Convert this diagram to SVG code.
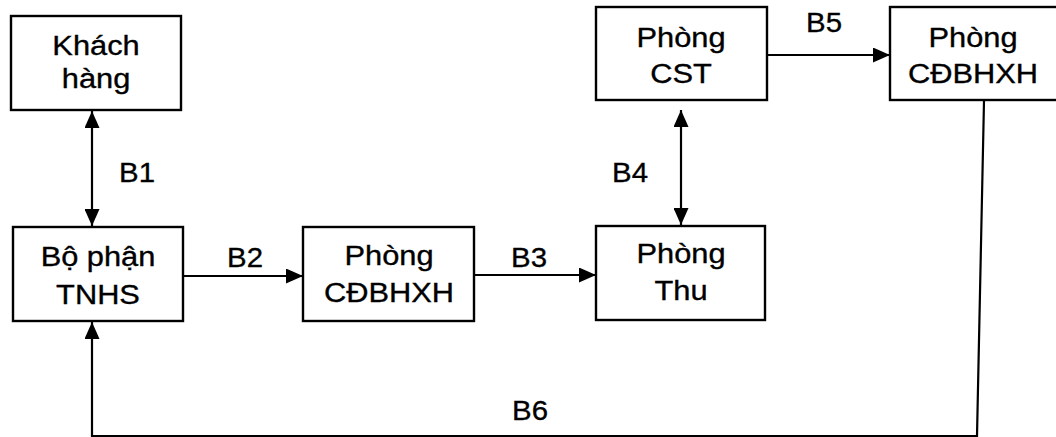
<svg xmlns="http://www.w3.org/2000/svg" width="1056" height="437" viewBox="0 0 1056 437">
<style>
.box{fill:#fff;stroke:#000;stroke-width:2.4}
.t{font-family:"Liberation Sans",Arial,sans-serif;font-size:28px;fill:#000;stroke:#000;stroke-width:0.35;text-anchor:middle}
.ln{stroke:#000;stroke-width:2.2;fill:none}
</style>
<defs>
<marker id="ah" viewBox="0 0 17 15" refX="17" refY="7.5" markerWidth="17" markerHeight="15" markerUnits="userSpaceOnUse" orient="auto-start-reverse">
<path d="M0,0 L17,7.5 L0,15 Z" fill="#000"/>
</marker>
</defs>
<rect width="1056" height="437" fill="#fff"/>
<g id="connectors">
<line class="ln" x1="92" y1="111" x2="92" y2="226" marker-start="url(#ah)" marker-end="url(#ah)"/>
<line class="ln" x1="183" y1="276" x2="303" y2="276" marker-end="url(#ah)"/>
<line class="ln" x1="474" y1="275" x2="596" y2="275" marker-end="url(#ah)"/>
<line class="ln" x1="681" y1="110" x2="681" y2="225" marker-start="url(#ah)" marker-end="url(#ah)"/>
<line class="ln" x1="767" y1="55" x2="890" y2="55" marker-end="url(#ah)"/>
<polyline class="ln" points="984,101 977,436 92,436 92,322" marker-end="url(#ah)"/>
<text class="t" transform="translate(137 182) scale(1.05 1)">B1</text>
<text class="t" transform="translate(245 267) scale(1.05 1)">B2</text>
<text class="t" transform="translate(529 267) scale(1.05 1)">B3</text>
<text class="t" transform="translate(630 182) scale(1.05 1)">B4</text>
<text class="t" transform="translate(824 32) scale(1.05 1)">B5</text>
<text class="t" transform="translate(530 420) scale(1.05 1)">B6</text>
</g>
<g id="khach-hang">
<rect class="box" x="11" y="16" width="170" height="94"/>
<text class="t" transform="translate(96 55) scale(1.1 1)">Khách</text>
<text class="t" transform="translate(96 88) scale(1.1 1)">hàng</text>
</g>
<g id="bo-phan-tnhs">
<rect class="box" x="13" y="227" width="170" height="94"/>
<text class="t" transform="translate(98 266) scale(1.1 1)">Bộ phận</text>
<text class="t" transform="translate(98 304) scale(1.1 1)">TNHS</text>
</g>
<g id="phong-cdbhxh-1">
<rect class="box" x="303" y="227" width="171" height="94"/>
<text class="t" transform="translate(389 265) scale(1.1 1)">Phòng</text>
<text class="t" transform="translate(389 302) scale(1.1 1)">CĐBHXH</text>
</g>
<g id="phong-thu">
<rect class="box" x="596" y="226" width="169" height="94"/>
<text class="t" transform="translate(681 263) scale(1.1 1)">Phòng</text>
<text class="t" transform="translate(681 300) scale(1.1 1)">Thu</text>
</g>
<g id="phong-cst">
<rect class="box" x="596" y="7" width="171" height="93"/>
<text class="t" transform="translate(681 47) scale(1.1 1)">Phòng</text>
<text class="t" transform="translate(681 83) scale(1.1 1)">CST</text>
</g>
<g id="phong-cdbhxh-2">
<rect class="box" x="890" y="7" width="180" height="93"/>
<text class="t" transform="translate(973 47) scale(1.1 1)">Phòng</text>
<text class="t" transform="translate(973 83) scale(1.1 1)">CĐBHXH</text>
</g>
</svg>
